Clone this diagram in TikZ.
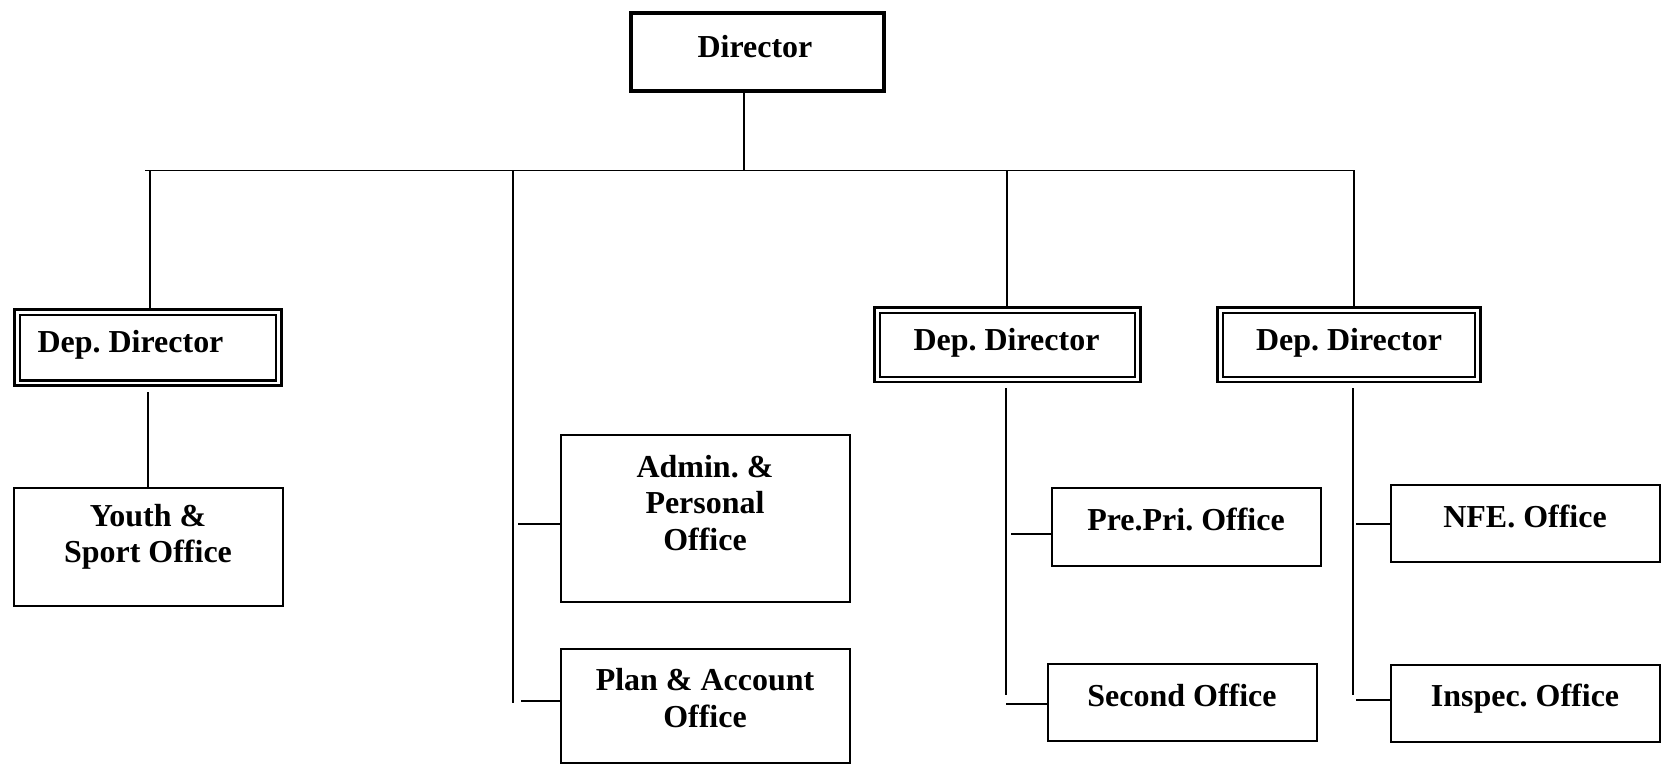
\documentclass[tikz,border=0pt]{standalone}
\usepackage{fontspec}
\setmainfont{Liberation Serif}
\frenchspacing
\begin{document}
\begin{tikzpicture}[x=0.02cm, y=-0.02cm,
  conn/.style={line width=1pt},
  officebox/.style={draw, line width=1.1pt, inner sep=0pt},
  depbox/.style={draw, line width=1.4pt, double, double distance=1.7pt, inner sep=0pt},
  dirbox/.style={draw, line width=2.8pt, inner sep=0pt},
  lbl/.style={font=\fontsize{18.2pt}{20.6pt}\selectfont\bfseries, align=center, inner sep=0pt}]
\useasboundingbox (0,0) rectangle (1661,765);
% boxes
\node[dirbox, minimum width=5.06cm, minimum height=1.56cm] (dir) at (757.5,52) {};
\node[depbox, minimum width=5.24cm, minimum height=1.42cm] (dep1) at (148,347.5) {};
\node[depbox, minimum width=5.22cm, minimum height=1.39cm] (dep2) at (1007.5,344.75) {};
\node[depbox, minimum width=5.16cm, minimum height=1.39cm] (dep3) at (1349,344.75) {};
\node[officebox, minimum width=5.38cm, minimum height=2.36cm] (youth) at (148.5,547) {};
\node[officebox, minimum width=5.78cm, minimum height=3.34cm] (admin) at (705.5,518.5) {};
\node[officebox, minimum width=5.78cm, minimum height=2.28cm] (plan) at (705.5,706) {};
\node[officebox, minimum width=5.38cm, minimum height=1.56cm] (prepri) at (1186.5,527) {};
\node[officebox, minimum width=5.38cm, minimum height=1.54cm] (second) at (1182.5,702.5) {};
\node[officebox, minimum width=5.38cm, minimum height=1.54cm] (nfe) at (1525.5,523.5) {};
\node[officebox, minimum width=5.38cm, minimum height=1.54cm] (inspec) at (1525.5,703.5) {};
% labels
\node[lbl] (tdir) at (755,46.6) {Director};
\node[lbl] (tdep1) at (130.5,345) {Dep. Director};
\node[lbl] (tdep2) at (1006.5,343) {Dep. Director};
\node[lbl] (tdep3) at (1349,343) {Dep. Director};
\node[lbl] (tyouth) at (148,537) {Youth \&\\Sport Office};
\node[lbl] (tadmin) at (705,503) {Admin. \&\\Personal\\Office};
\node[lbl] (tplan) at (705,698) {Plan \& Account\\Office};
\node[lbl] (tprepri) at (1186,519) {Pre.Pri. Office};
\node[lbl] (tsecond) at (1182,695) {Second Office};
\node[lbl] (tnfe) at (1525,516) {NFE. Office};
\node[lbl] (tinspec) at (1525,699) {Inspec. Office};
% bus
\coordinate (bL) at (145,170.5);
\coordinate (bR) at (1355,170.5);
\coordinate (j0) at (744,170.5);
\coordinate (j1) at (150,170.5);
\coordinate (j2) at (513,170.5);
\coordinate (j3) at (1007,170.5);
\coordinate (j4) at (1354,170.5);
\coordinate (c2end) at (513,703);
\draw[conn] (bL) -- (bR);
\draw[conn] (j0) -- (j0 |- dir.south);
\draw[conn] (j1) -- (j1 |- dep1.north);
\draw[conn] (j2) -- (c2end);
\draw[conn] (j3) -- (j3 |- dep2.north);
\draw[conn] (j4) -- (j4 |- dep3.north);
% under dep directors
\coordinate (d1) at (148,392);
\draw[conn] (d1) -- (d1 |- youth.north);
\coordinate (d2a) at (1006,388);
\coordinate (d2b) at (1006,695);
\draw[conn] (d2a) -- (d2b);
\coordinate (d3a) at (1353,388);
\coordinate (d3b) at (1353,695);
\draw[conn] (d3a) -- (d3b);
% stubs
\coordinate (sadmin) at (518,524);
\coordinate (splan) at (521,701);
\coordinate (sprepri) at (1011,534);
\coordinate (ssecond) at (1006,704);
\coordinate (snfe) at (1356,524);
\coordinate (sinspec) at (1356,700);
\draw[conn] (sadmin) -- (admin.west |- sadmin);
\draw[conn] (splan) -- (plan.west |- splan);
\draw[conn] (sprepri) -- (prepri.west |- sprepri);
\draw[conn] (ssecond) -- (second.west |- ssecond);
\draw[conn] (snfe) -- (nfe.west |- snfe);
\draw[conn] (sinspec) -- (inspec.west |- sinspec);
\end{tikzpicture}
\end{document}
